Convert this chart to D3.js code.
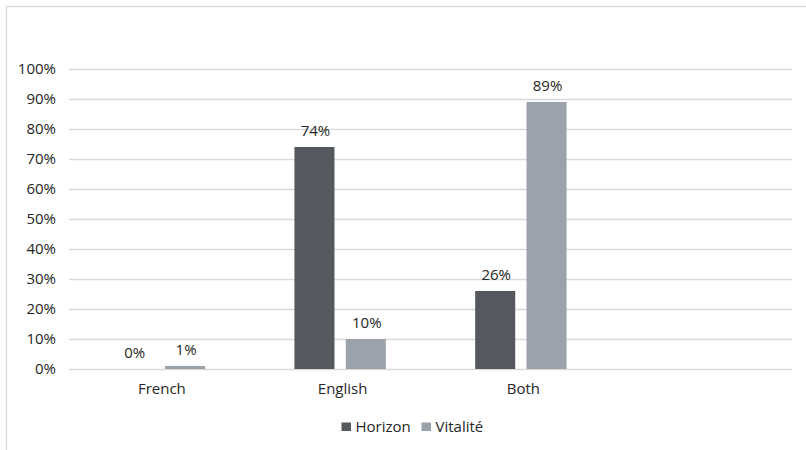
<!DOCTYPE html>
<html>
<head>
<meta charset="utf-8">
<script src="https://cdn.jsdelivr.net/npm/d3@7"></script>
<style>
  html, body { margin: 0; padding: 0; background: #fff; }
  svg { display: block; font-family: "Open Sans", "Noto Sans", sans-serif; }
  text { fill: #262626; }
</style>
</head>
<body>
<svg id="chart" width="806" height="450"></svg>
<script>
// Share of responses by language, per network
const categories = ["French", "English", "Both", ""];
const seriesNames = ["Horizon", "Vitalité"];
const horizon = [0, 74, 26, null];
const vitalite = [1, 10, 89, null];
const yTicks = [0, 10, 20, 30, 40, 50, 60, 70, 80, 90, 100];
const colors = ["#55585d", "#9ca2a9"];

const svg = d3.select("#chart");
const W = 806, H = 450;
const m = { left: 69, right: 14, top: 69, bottom: 81 };
const innerW = W - m.left - m.right;
const innerH = H - m.top - m.bottom;
const FS = 15;

// outer frame
svg.append("rect")
  .attr("x", 6.5).attr("y", 6.5)
  .attr("width", W + 20).attr("height", H + 20)
  .attr("fill", "none").attr("stroke", "#d9d9d9").attr("stroke-width", 1.3);

const g = svg.append("g").attr("transform", `translate(${m.left},${m.top})`);

const x0 = d3.scaleBand().domain(categories).range([0, innerW]).padding(0);
const groupW = 91.4;
const x1 = d3.scaleBand().domain(seriesNames).range([0, groupW]).paddingInner(0.22).paddingOuter(0);
const y = d3.scaleLinear().domain([0, 100]).range([innerH, 0]);

// gridlines
g.append("g")
  .selectAll("line").data(yTicks).join("line")
  .attr("x1", 0).attr("x2", innerW)
  .attr("y1", d => Math.round(y(d)) + 0.5).attr("y2", d => Math.round(y(d)) + 0.5)
  .attr("stroke", "#d9d9d9").attr("stroke-width", 1.3);

// y axis labels
const yAxis = d3.axisLeft(y).tickValues(yTicks).tickFormat(d => d + "%").tickSize(0).tickPadding(13);
const ya = g.append("g").call(yAxis);
ya.select(".domain").remove();
ya.selectAll("text").attr("font-size", FS).attr("font-family", "Open Sans, sans-serif").attr("fill", "#262626");

// x axis labels
const xAxis = d3.axisBottom(x0).tickSize(0).tickPadding(14);
const xa = g.append("g").attr("transform", `translate(0,${innerH})`).call(xAxis);
xa.select(".domain").remove();
xa.selectAll("text").attr("font-size", FS).attr("font-family", "Open Sans, sans-serif").attr("fill", "#262626").attr("dx", 2.5);

// bars
const rows = categories.map((c, i) => ({ cat: c, vals: [horizon[i], vitalite[i]] }));
const groups = g.selectAll(".grp").data(rows.filter(r => r.cat !== "")).join("g")
  .attr("class", "grp")
  .attr("transform", d => `translate(${x0(d.cat) + x0.bandwidth() / 2 - groupW / 2},0)`);

groups.selectAll("rect").data(d => d.vals.map((v, k) => ({ s: seriesNames[k], v, k }))).join("rect")
  .attr("x", d => x1(d.s))
  .attr("y", d => y(d.v))
  .attr("width", x1.bandwidth())
  .attr("height", d => innerH - y(d.v))
  .attr("fill", d => colors[d.k]);

groups.selectAll("text.val").data(d => d.vals.map((v, k) => ({ s: seriesNames[k], v, k }))).join("text")
  .attr("class", "val")
  .attr("x", d => x1(d.s) + x1.bandwidth() / 2 + 1)
  .attr("y", d => y(d.v) - 11.5)
  .attr("text-anchor", "middle")
  .attr("font-size", FS)
  .text(d => d.v + "%");

// legend
const legend = svg.append("g").attr("transform", "translate(341.5,422.5)");
const lx = [0, 80];
seriesNames.forEach((s, i) => {
  const lg = legend.append("g").attr("transform", `translate(${lx[i]},0)`);
  lg.append("rect").attr("width", 9.5).attr("height", 8.5).attr("fill", colors[i]);
  lg.append("text").attr("x", 14).attr("y", 9.5).attr("font-size", FS).text(s);
});
</script>
</body>
</html>
